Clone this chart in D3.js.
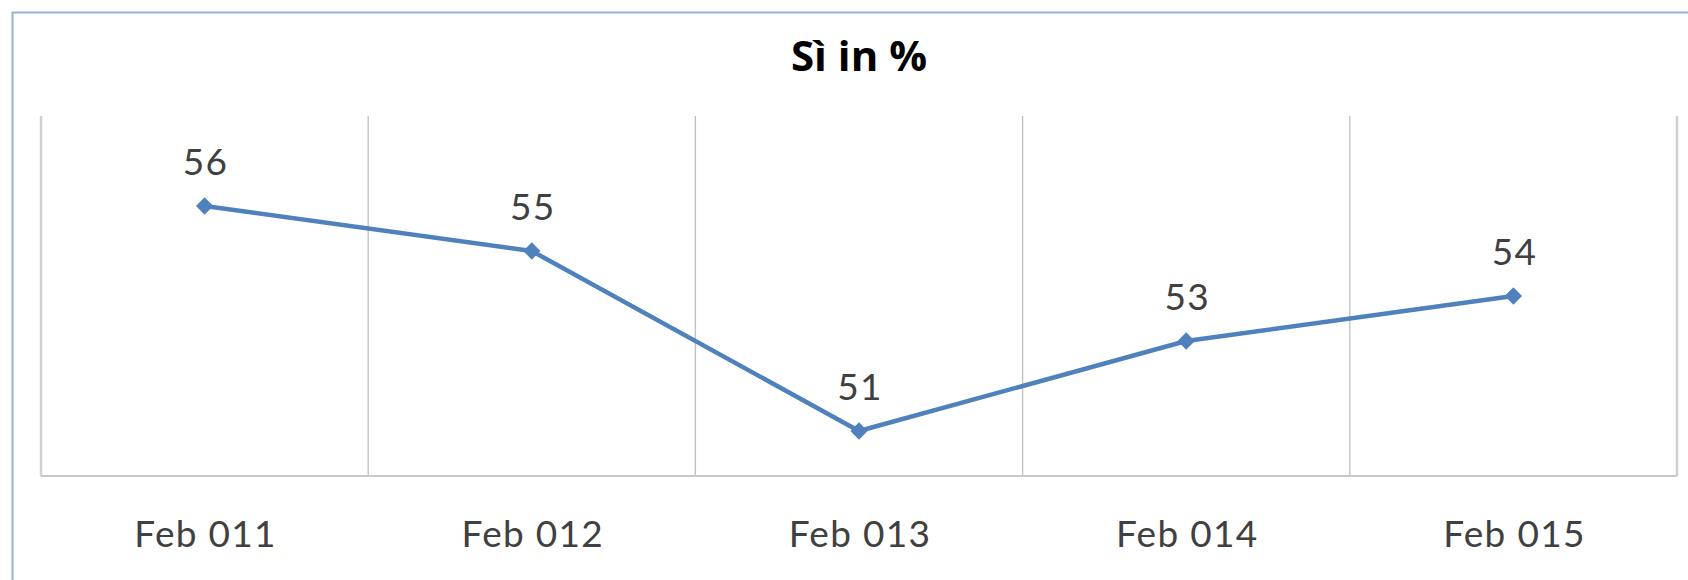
<!DOCTYPE html>
<html lang="en">
<head>
    <meta charset="UTF-8">
    <script src="https://d3js.org/d3.v7.min.js"></script>
    <title>Si in %</title>
    <style>
        body { margin: 0; background: #fff; }
    </style>
</head>
<body>
    <svg id="svg1" width="1688" height="580"></svg>
    <script>
        const categories = ["Feb 011", "Feb 012", "Feb 013", "Feb 014", "Feb 015"];
        const values = [56, 55, 51, 53, 54];
        const chartTitle = "Sì in %";

        const svg1 = d3.select("svg#svg1");
        const margin = {top: 116, right: 11, bottom: 104, left: 41};
        const width = +svg1.attr("width");
        const height = +svg1.attr("height");
        const labelFont = "Lato, 'DejaVu Sans', sans-serif";

        // outer chart frame (right/bottom edges fall outside the picture)
        svg1.append("rect")
            .attr("x", 12.5).attr("y", 12.5)
            .attr("width", width + 20).attr("height", height + 20)
            .attr("fill", "none")
            .attr("stroke", "#95b3d7")
            .attr("stroke-width", 2);

        const xScale = d3.scaleBand()
            .domain(categories)
            .range([margin.left, width - margin.right])
            .padding(0);

        const yScale = d3.scaleLinear()
            .domain([50, 58])
            .range([height - margin.bottom, margin.top]);

        // vertical gridlines at category boundaries
        const bounds = categories.map(c => xScale(c)).concat([xScale.range()[1]]);
        svg1.append("g").selectAll("line")
            .data(bounds)
            .join("line")
            .attr("x1", d => d).attr("x2", d => d)
            .attr("y1", margin.top).attr("y2", height - margin.bottom)
            .attr("stroke", (d, i) => (i == 0 || i == bounds.length - 1) ? "#d0d0d0" : "#bfbfbf")
            .attr("stroke-width", (d, i) => (i == 0 || i == bounds.length - 1) ? 2.5 : 1.3);

        // x axis line
        svg1.append("line")
            .attr("x1", margin.left).attr("x2", width - margin.right)
            .attr("y1", height - margin.bottom).attr("y2", height - margin.bottom)
            .attr("stroke", "#c8c8c8")
            .attr("stroke-width", 2);

        // category labels
        let bottomAxis = d3.axisBottom(xScale).tickSize(0).tickPadding(0);
        let xAxisG = svg1.append("g")
            .attr("transform", `translate(0,${height - margin.bottom})`)
            .call(bottomAxis);
        xAxisG.select(".domain").remove();
        xAxisG.selectAll(".tick text")
            .attr("y", 71)
            .attr("dy", 0)
            .attr("dx", 1)
            .attr("font-family", labelFont)
            .attr("font-size", 37)
            .attr("letter-spacing", 1.3)
            .attr("fill", "#404040");

        // the line
        const lineGen = d3.line()
            .x((d, i) => xScale(categories[i]) + xScale.bandwidth() / 2)
            .y(d => yScale(d));

        svg1.append("path")
            .datum(values)
            .attr("fill", "none")
            .attr("stroke", "#4f81bd")
            .attr("stroke-width", 4.5)
            .attr("stroke-linejoin", "round")
            .attr("d", lineGen);

        // diamond markers
        const diamond = d3.symbol().type(d3.symbolDiamond2).size(190);
        svg1.append("g").selectAll("path")
            .data(values)
            .join("path")
            .attr("d", diamond)
            .attr("transform", (d, i) => `translate(${xScale(categories[i]) + xScale.bandwidth() / 2},${yScale(d)})`)
            .attr("fill", "#4f81bd");

        // data labels
        svg1.append("g").selectAll("text")
            .data(values)
            .join("text")
            .attr("x", (d, i) => xScale(categories[i]) + xScale.bandwidth() / 2 + 1)
            .attr("y", d => yScale(d) - 31)
            .attr("text-anchor", "middle")
            .attr("font-family", labelFont)
            .attr("font-size", 37)
            .attr("letter-spacing", 1.3)
            .attr("fill", "#404040")
            .text(d => d);

        // title
        svg1.append("text")
            .attr("x", (margin.left + width - margin.right) / 2)
            .attr("y", 71)
            .attr("text-anchor", "middle")
            .attr("font-family", "'Open Sans', 'Noto Sans', sans-serif")
            .attr("font-weight", "bold")
            .attr("font-size", 42)
            .attr("fill", "#000")
            .text(chartTitle);
    </script>
</body>
</html>
